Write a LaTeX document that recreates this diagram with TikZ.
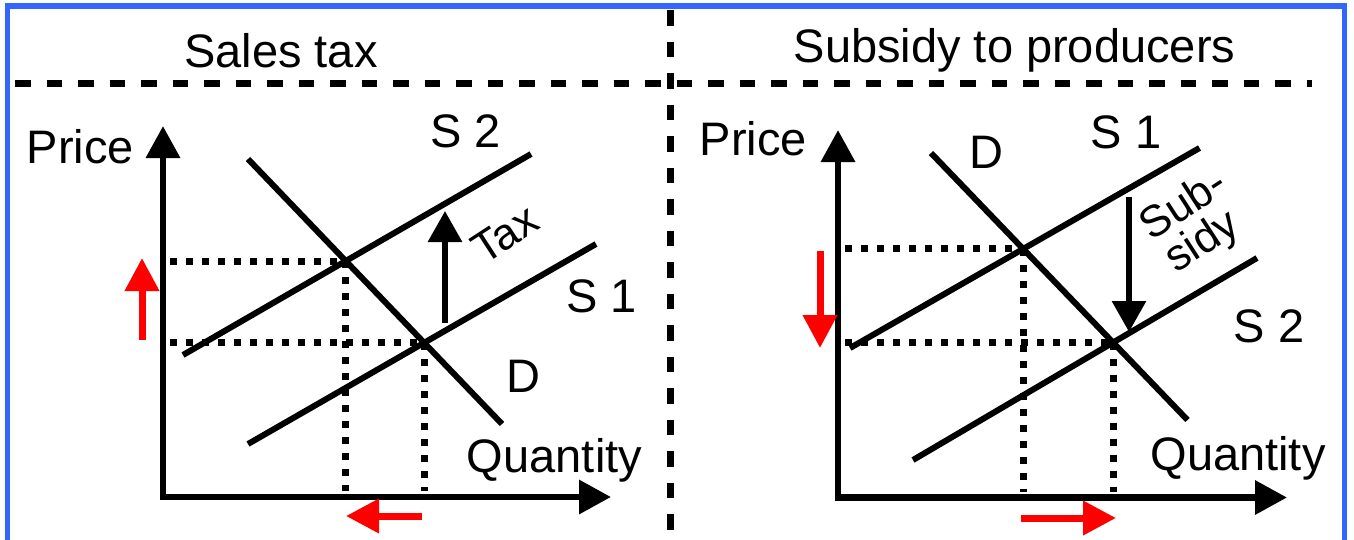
\documentclass[tikz,border=0pt]{standalone}
\usepackage{fontspec}
\setmainfont{Liberation Sans}
\usetikzlibrary{arrows.meta}
\definecolor{frameblue}{RGB}{51,102,255}
\begin{document}
\begin{tikzpicture}[x=1pt,y=-1pt,
  lbl/.style={font=\fontsize{47}{52}\selectfont, inner sep=0pt, anchor=base},
  small/.style={font=\fontsize{44}{52}\selectfont, inner sep=0pt, rotate=33},
  curve/.style={line width=6pt},
  axis/.style={line width=6.5pt, {Triangle[width=33pt,length=32pt]}-{Triangle[width=33pt,length=32pt]}},
  dotl/.style={line width=7pt, dash pattern=on 7pt off 9pt},
  dashl/.style={line width=6.5pt, dash pattern=on 15.5pt off 16pt},
  blkarrow/.style={line width=6pt, -{Triangle[width=33pt,length=31pt]}},
  redarrow/.style={red, line width=7pt, -{Triangle[width=33pt,length=33pt]}},
]
\useasboundingbox (0,0) rectangle (1354,539);
% frame
\draw[frameblue, line width=5.5pt] (7.5,545) -- (7.5,6) -- (1344.5,6) -- (1344.5,545);
% separators
\draw[dashl] (15,83.5) -- (1312,83.5);
\draw[dashl] (670.5,10) -- (670.5,545);
% titles
\node[lbl] (t1) at (281,67) {Sales tax};
\node[lbl] (t2) at (1014.5,62) {Subsidy to producers};

% ---------------- left panel ----------------
\coordinate (Ly) at (163,126);
\coordinate (Lo) at (163,497);
\coordinate (Lx) at (611,497);
\draw[axis] (Ly) -- (Lo) -- (Lx);
\coordinate (LD1) at (248,159);  \coordinate (LD2) at (502,424);
\coordinate (LS2a) at (183,355); \coordinate (LS2b) at (531,154);
\coordinate (LS1a) at (248,444); \coordinate (LS1b) at (596,244);
\draw[curve] (LD1) -- (LD2);
\draw[curve] (LS2a) -- (LS2b);
\draw[curve] (LS1a) -- (LS1b);
\coordinate (LE2) at (intersection of LD1--LD2 and LS2a--LS2b);
\coordinate (LE1) at (intersection of LD1--LD2 and LS1a--LS1b);
\coordinate (Lyl) at (170,0);
\coordinate (Lxl) at (0,491);
\draw[dotl] (LE2 -| Lyl) -- (LE2);
\draw[dotl] (LE1 -| Lyl) -- (LE1);
\draw[dotl] (LE2) -- (LE2 |- Lxl);
\draw[dotl] (LE1) -- (LE1 |- Lxl);
\coordinate (LTa) at (445,323); \coordinate (LTb) at (445,211);
\draw[blkarrow] (LTa) -- (LTb);
\node[small] (tax) at (505,234) {Tax};
\coordinate (LRa) at (142,340); \coordinate (LRb) at (142,258);
\draw[redarrow] (LRa) -- (LRb);
\coordinate (LQa) at (422,516); \coordinate (LQb) at (346,516);
\draw[redarrow] (LQa) -- (LQb);
\node[lbl] (lp) at (80.5,163) {Price};
\node[lbl] (lq) at (554.5,472) {Quantity};
\node[lbl] (ls2) at (465.5,147) {S 2};
\node[lbl] (ls1) at (601.5,312) {S 1};
\node[lbl] (ld) at (523.5,392) {D};

% ---------------- right panel ----------------
\coordinate (Ry) at (838,130);
\coordinate (Ro) at (838,497.5);
\coordinate (Rx) at (1287,497.5);
\draw[axis] (Ry) -- (Ro) -- (Rx);
\coordinate (RD1) at (931,153);   \coordinate (RD2) at (1187.5,420);
\coordinate (RS1a) at (850,348);  \coordinate (RS1b) at (1199.5,148);
\coordinate (RS2a) at (913,460);  \coordinate (RS2b) at (1257,258);
\draw[curve] (RD1) -- (RD2);
\draw[curve] (RS1a) -- (RS1b);
\draw[curve] (RS2a) -- (RS2b);
\coordinate (RE1) at (intersection of RD1--RD2 and RS1a--RS1b);
\coordinate (RE2) at (intersection of RD1--RD2 and RS2a--RS2b);
\coordinate (Ryl) at (845,0);
\coordinate (Rxl) at (0,492);
\draw[dotl] (RE1 -| Ryl) -- (RE1);
\draw[dotl] (RE2 -| Ryl) -- (RE2);
\draw[dotl] (RE1) -- (RE1 |- Rxl);
\draw[dotl] (RE2) -- (RE2 |- Rxl);
\coordinate (RSa) at (1129,197); \coordinate (RSb) at (1129,332);
\draw[blkarrow] (RSa) -- (RSb);
\node[small] (sub1) at (1182,203) {Sub-};
\node[small] (sub2) at (1203,243) {sidy};
\coordinate (RRa) at (820,251); \coordinate (RRb) at (820,348);
\draw[redarrow] (RRa) -- (RRb);
\coordinate (RQa) at (1021,518); \coordinate (RQb) at (1116,518);
\draw[redarrow] (RQa) -- (RQb);
\node[lbl] (rp) at (753.5,155) {Price};
\node[lbl] (rq) at (1238,470) {Quantity};
\node[lbl] (rs1) at (1126,148) {S 1};
\node[lbl] (rs2) at (1269,342) {S 2};
\node[lbl] (rd) at (986.5,168) {D};
\end{tikzpicture}
\end{document}
